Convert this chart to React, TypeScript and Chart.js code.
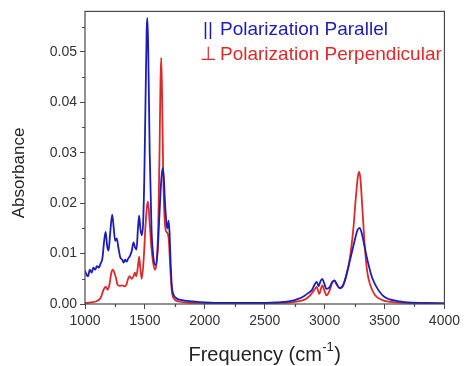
import React, { useEffect, useRef } from "react";
import { Chart, registerables } from "chart.js";

Chart.register(...registerables);

const parallelFreq = [1000, 1015, 1025, 1040, 1055, 1070, 1085, 1100, 1115, 1130, 1145, 1160, 1172, 1185, 1197, 1210, 1227, 1240, 1252, 1265, 1280, 1295, 1310, 1322, 1335, 1348, 1360, 1375, 1390, 1405, 1418, 1430, 1442, 1452, 1462, 1474, 1485, 1495, 1505, 1515, 1521, 1528, 1540, 1555, 1570, 1590, 1605, 1620, 1635, 1648, 1658, 1668, 1680, 1690, 1698, 1706, 1715, 1725, 1740, 1760, 1800, 1900, 2000, 2200, 2400, 2600, 2700, 2780, 2830, 2865, 2895, 2920, 2934, 2950, 2965, 2980, 2995, 3015, 3040, 3065, 3082, 3100, 3125, 3145, 3170, 3200, 3230, 3255, 3275, 3292, 3310, 3330, 3350, 3375, 3400, 3450, 3500, 3600, 3700, 3850, 4000];
const parallelAbs = [0.0066, 0.0057, 0.0055, 0.0068, 0.0062, 0.0072, 0.0068, 0.0075, 0.0072, 0.008, 0.009, 0.0125, 0.0143, 0.0115, 0.0106, 0.014, 0.0177, 0.015, 0.0125, 0.013, 0.011, 0.0092, 0.0088, 0.0082, 0.0088, 0.0084, 0.009, 0.0095, 0.0105, 0.0122, 0.0112, 0.0108, 0.015, 0.0175, 0.015, 0.0136, 0.016, 0.025, 0.04, 0.0545, 0.0567, 0.05, 0.03, 0.015, 0.0095, 0.0077, 0.01, 0.017, 0.024, 0.027, 0.025, 0.02, 0.016, 0.015, 0.0165, 0.014, 0.008, 0.0035, 0.0018, 0.0012, 0.0008, 0.0005, 0.0003, 0.0002, 0.0002, 0.0003, 0.0005, 0.001, 0.0016, 0.0022, 0.0028, 0.004, 0.0044, 0.0035, 0.0045, 0.005, 0.0042, 0.003, 0.0033, 0.0044, 0.0047, 0.004, 0.0032, 0.0034, 0.0048, 0.0075, 0.0105, 0.013, 0.0147, 0.0151, 0.014, 0.0118, 0.0095, 0.007, 0.005, 0.0027, 0.0014, 0.0006, 0.0003, 0.0002, 0.0001];

const perpFreq = [1000, 1050, 1100, 1130, 1150, 1165, 1175, 1190, 1205, 1220, 1233, 1245, 1258, 1272, 1290, 1310, 1330, 1345, 1360, 1372, 1390, 1405, 1415, 1428, 1442, 1452, 1462, 1474, 1490, 1505, 1518, 1526, 1540, 1555, 1570, 1585, 1600, 1612, 1622, 1630, 1636, 1643, 1652, 1662, 1675, 1690, 1700, 1712, 1725, 1745, 1780, 1850, 2000, 2300, 2600, 2700, 2800, 2850, 2890, 2915, 2934, 2955, 2980, 3000, 3016, 3040, 3065, 3082, 3100, 3125, 3150, 3180, 3210, 3240, 3262, 3278, 3288, 3298, 3315, 3335, 3355, 3380, 3420, 3470, 3550, 3700, 4000];
const perpAbs = [0.0002, 0.0003, 0.0006, 0.0012, 0.0025, 0.0033, 0.0034, 0.0028, 0.004, 0.0062, 0.0068, 0.0062, 0.0052, 0.0038, 0.0036, 0.0037, 0.0035, 0.0038, 0.005, 0.0055, 0.005, 0.0055, 0.0062, 0.0055, 0.0075, 0.0094, 0.007, 0.005, 0.009, 0.0155, 0.0195, 0.0203, 0.016, 0.011, 0.008, 0.0068, 0.009, 0.016, 0.03, 0.044, 0.0488, 0.042, 0.027, 0.018, 0.0145, 0.014, 0.0125, 0.007, 0.0025, 0.001, 0.0005, 0.0003, 0.0002, 0.0001, 0.0002, 0.0003, 0.0006, 0.0011, 0.002, 0.0028, 0.0034, 0.002, 0.0037, 0.0025, 0.0017, 0.0026, 0.0043, 0.0047, 0.0039, 0.0031, 0.0034, 0.0055, 0.009, 0.015, 0.0215, 0.0253, 0.0262, 0.025, 0.019, 0.0115, 0.0065, 0.0038, 0.0018, 0.0009, 0.0004, 0.0002, 0.0001];

const xMajorTicks = [1000, 1500, 2000, 2500, 3000, 3500, 4000];
const xMinorTicks = [1250, 1750, 2250, 2750, 3250, 3750];
const yMajorTicks = [0, 0.01, 0.02, 0.03, 0.04, 0.05];
const yMinorTicks = [0.005, 0.015, 0.025, 0.035, 0.045, 0.055];

const seriesLabels = ["Polarization Parallel", "Polarization Perpendicular"];
const seriesMarks = ["||", "\u22A5"];
const xTitle = "Frequency (cm";
const xTitleSup = "-1";
const yTitle = "Absorbance";

const BLUE = "#1c1cb8";
const RED = "#dc2a2a";
const AXIS = "#4a4a4a";
const FONT = "'Liberation Sans', Arial, sans-serif";

export default function App() {
  const ref = useRef<HTMLCanvasElement | null>(null);
  useEffect(() => {
    const canvas = ref.current;
    if (!canvas) return;
    const decor = {
      id: "decor",
      afterDraw(chart: any) {
        const { ctx, chartArea } = chart;
        const xs = chart.scales.x;
        const ys = chart.scales.y;
        ctx.save();
        ctx.strokeStyle = AXIS;
        ctx.lineWidth = 1.2;
        ctx.strokeRect(chartArea.left, chartArea.top, chartArea.right - chartArea.left, chartArea.bottom - chartArea.top);
        ctx.beginPath();
        xMinorTicks.forEach((v) => {
          const px = Math.round(xs.getPixelForValue(v)) + 0.5;
          ctx.moveTo(px, chartArea.bottom);
          ctx.lineTo(px, chartArea.bottom + 3);
        });
        yMinorTicks.forEach((v) => {
          const py = Math.round(ys.getPixelForValue(v)) + 0.5;
          ctx.moveTo(chartArea.left, py);
          ctx.lineTo(chartArea.left - 3, py);
        });
        ctx.stroke();

        ctx.fillStyle = "#222";
        ctx.save();
        ctx.translate(24, 173);
        ctx.rotate(-Math.PI / 2);
        ctx.font = `17px ${FONT}`;
        ctx.textAlign = "center";
        ctx.textBaseline = "alphabetic";
        ctx.fillText(yTitle, 0, 0);
        ctx.restore();

        ctx.font = `20px ${FONT}`;
        const w1 = ctx.measureText(xTitle).width;
        ctx.font = `13px ${FONT}`;
        const w2 = ctx.measureText(xTitleSup).width;
        ctx.font = `20px ${FONT}`;
        const w3 = ctx.measureText(")").width;
        const total = w1 + w2 + w3 + 1;
        const cx = (chartArea.left + chartArea.right) / 2;
        const x0 = cx - total / 2;
        const base = 361;
        ctx.textAlign = "left";
        ctx.textBaseline = "alphabetic";
        ctx.fillText(xTitle, x0, base);
        ctx.font = `13px ${FONT}`;
        ctx.fillText(xTitleSup, x0 + w1 + 0.5, base - 10);
        ctx.font = `20px ${FONT}`;
        ctx.fillText(")", x0 + w1 + w2 + 1, base);

        ctx.font = `19px ${FONT}`;
        ctx.fillStyle = BLUE;
        ctx.fillText(seriesMarks[0], 203, 35);
        ctx.fillText(seriesLabels[0], 220, 35);
        ctx.fillStyle = RED;
        ctx.fillText(seriesMarks[1], 200, 60);
        ctx.fillText(seriesLabels[1], 220, 60);
        ctx.restore();
      },
    };
    const chart = new Chart(canvas, {
      type: "line",
      data: {
        datasets: [
          {
            label: seriesLabels[0],
            data: parallelFreq.map((f, i) => ({ x: f, y: parallelAbs[i] })),
            borderColor: BLUE,
            borderWidth: 1.8,
            pointRadius: 0,
            cubicInterpolationMode: "monotone",
            fill: false,
          },
          {
            label: seriesLabels[1],
            data: perpFreq.map((f, i) => ({ x: f, y: perpAbs[i] })),
            borderColor: RED,
            borderWidth: 1.8,
            pointRadius: 0,
            cubicInterpolationMode: "monotone",
            fill: false,
          },
        ],
      },
      options: {
        responsive: false,
        animation: false,
        layout: { padding: { top: 9, right: 14, left: 0, bottom: 0 } },
        plugins: { legend: { display: false }, tooltip: { enabled: false } },
        scales: {
          x: {
            type: "linear",
            min: 1000,
            max: 4000,
            afterBuildTicks: (s: any) => {
              s.ticks = xMajorTicks.map((v) => ({ value: v }));
            },
            afterFit: (s: any) => {
              s.height = 62;
            },
            ticks: {
              font: { family: FONT, size: 14 },
              color: "#333",
              padding: 4,
              maxRotation: 0,
              callback: (v: any) => String(v),
            },
            grid: { drawOnChartArea: false, drawTicks: true, tickLength: 5, color: AXIS, tickColor: AXIS },
            border: { display: false },
          },
          y: {
            type: "linear",
            min: 0,
            max: 0.058,
            afterBuildTicks: (s: any) => {
              s.ticks = yMajorTicks.map((v) => ({ value: v }));
            },
            afterFit: (s: any) => {
              s.width = 85;
            },
            ticks: {
              font: { family: FONT, size: 14 },
              color: "#333",
              padding: 3,
              callback: (v: any) => Number(v).toFixed(2),
            },
            grid: { drawOnChartArea: false, drawTicks: true, tickLength: 5, color: AXIS, tickColor: AXIS },
            border: { display: false },
          },
        },
      },
      plugins: [decor],
    });
    return () => chart.destroy();
  }, []);
  return (
    <div style={{ position: "fixed", left: 0, top: 0, width: 464, height: 366, background: "#fff" }}>
      <canvas ref={ref} width={464} height={366} style={{ display: "block" }} />
    </div>
  );
}
